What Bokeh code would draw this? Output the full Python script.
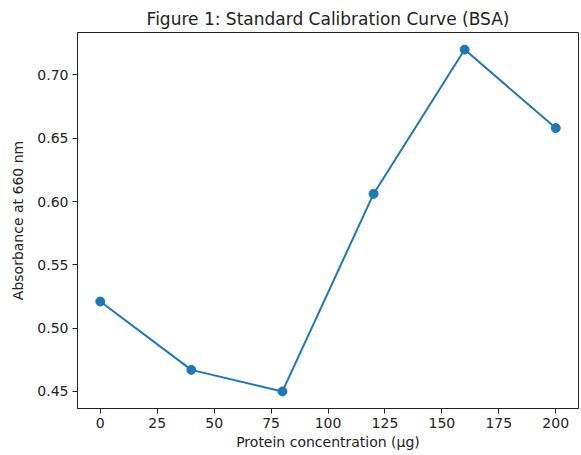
from bokeh.plotting import figure
from bokeh.embed import file_html
from bokeh.resources import INLINE
from bokeh.models import Range1d, FixedTicker, CustomJSTickFormatter

concentration = [0, 40, 80, 120, 160, 200]
absorbance = [0.521, 0.467, 0.450, 0.606, 0.720, 0.658]
x_ticks = [0, 25, 50, 75, 100, 125, 150, 175, 200]
y_ticks = [0.45, 0.50, 0.55, 0.60, 0.65, 0.70]

FONT = "DejaVu Sans"
COLOR = "#1f77b4"

p = figure(width=579, height=453, output_backend="svg", toolbar_location=None,
           title="Figure 1: Standard Calibration Curve (BSA)",
           x_range=Range1d(-10, 210), y_range=Range1d(0.4365, 0.7335),
           min_border_left=77, min_border_right=1, min_border_top=32, min_border_bottom=45)

p.title.align = "center"
p.title.text_font = FONT
p.title.text_font_size = "17px"
p.title.text_font_style = "normal"
p.title.text_color = "#222222"
p.title.offset = 0
p.title.standoff = 8

p.line(concentration, absorbance, line_color=COLOR, line_width=2)
p.scatter(concentration, absorbance, size=9, fill_color=COLOR, line_color=COLOR)

p.xgrid.visible = False
p.ygrid.visible = False
p.outline_line_color = "#222222"
p.outline_line_width = 1

p.xaxis.ticker = FixedTicker(ticks=x_ticks)
p.yaxis.ticker = FixedTicker(ticks=y_ticks)
p.yaxis.formatter = CustomJSTickFormatter(code="return tick.toFixed(2);")

for ax in (p.xaxis, p.yaxis):
    ax.axis_line_color = "#222222"
    ax.major_tick_line_color = "#222222"
    ax.major_tick_out = 5
    ax.major_tick_in = 0
    ax.minor_tick_line_color = None
    ax.major_label_text_font = FONT
    ax.major_label_text_font_size = "14px"
    ax.major_label_text_color = "#222222"
    ax.axis_label_text_font = FONT
    ax.axis_label_text_font_size = "14px"
    ax.axis_label_text_font_style = "normal"
    ax.axis_label_text_color = "#222222"
    ax.major_label_standoff = 4

p.xaxis.axis_label = "Protein concentration (µg)"
p.yaxis.axis_label = "Absorbance at 660 nm"
p.xaxis.axis_label_standoff = 3
p.yaxis.axis_label_standoff = 8

open("out.html", "w").write(file_html(p, INLINE))
